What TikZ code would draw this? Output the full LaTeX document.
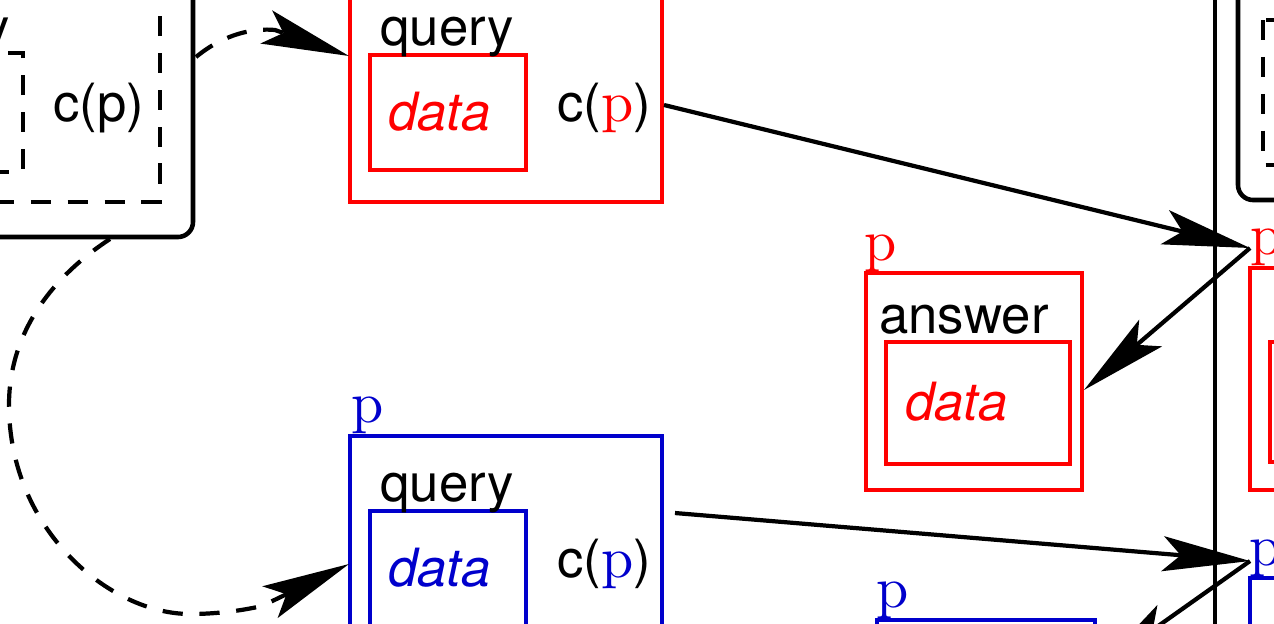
\documentclass[tikz,border=0pt]{standalone}
\usepackage{fontspec}
\newfontfamily\helv{TeX Gyre Heros}
\newfontfamily\cmr{lmroman10-regular.otf}
\usetikzlibrary{arrows.meta}
\definecolor{qred}{RGB}{255,0,0}
\definecolor{qblue}{RGB}{0,0,204}
\newcommand{\pp}[1]{\textcolor{#1}{\cmr\fontsize{33}{36}\selectfont p}}

\begin{document}
\begin{tikzpicture}[x=0.02cm, y=-0.02cm,
    txt/.style = {font=\helv\fontsize{30}{36}\selectfont, inner sep=0pt},
    ptxt/.style = {inner sep=0pt, anchor=south west},
    box/.style = {line width=2.6pt},
    dash line/.style = {line width=2.4pt, dash pattern=on 11.5pt off 9.5pt},
    big tip/.style = {-{Stealth[length=1.75cm, width=0.7cm, inset=0.36cm]}},
    link/.style = {line width=2.4pt, big tip}]
    \useasboundingbox (0,0) rectangle (1274,623);
    \clip (0,0) rectangle (1274,623);

    % left: sender
    \draw [box, rounded corners = 0.3cm] (-200,-60) rectangle (193,237);
    \draw [dash line]
        (-170,-40) rectangle (160,202)
        (-150,53) rectangle (23,172);
    \node [txt, anchor=base east] (sq) at (10,45) {query};
    \node [txt, anchor=base] (sc) at (99,121) {c(p)};

    % middle: red and blue queries
    \draw [box, qred]
        (350,-20) rectangle (662,202)
        (370,55) rectangle (526,170);
    \node [txt, anchor=base west] (rq) at (380,45) {query};
    \node [txt, anchor=base west, text=qred] (rd) at (388,130) {\itshape data};
    \node [txt, anchor=base] (rc) at (604,121) {c(\pp{qred})};

    \draw [box, qblue]
        (350,436) rectangle (662,658)
        (370,511) rectangle (526,626);
    \node [ptxt] (bp) at (351,434) {\pp{qblue}};
    \node [txt, anchor=base west] (bq) at (380,501) {query};
    \node [txt, anchor=base west, text=qblue] (bd) at (388,586) {\itshape data};
    \node [txt, anchor=base] (bc) at (604,577) {c(\pp{qblue})};

    % answers
    \draw [box, qred]
        (866,273) rectangle (1082,490)
        (886,342) rectangle (1070,464);
    \node [ptxt] (ap) at (864,272) {\pp{qred}};
    \node [txt, anchor=base west] (aa) at (879,333) {answer};
    \node [txt, anchor=base west, text=qred] (ad) at (905,420) {\itshape data};

    \draw [box, qblue] (877,620) rectangle (1095,837);
    \node [ptxt] (abp) at (876,619) {\pp{qblue}};

    % right: receiver
    \draw [line width=2.3pt] (1215,-10) -- (1215,633);
    \draw [box, rounded corners = 0.3cm] (1238,-200) rectangle (1500,200);
    \draw [dash line] (1263,20) rectangle (1480,165);
    \draw [box, qred]
        (1250,268) rectangle (1470,490)
        (1270,342) rectangle (1460,462);
    \node [ptxt] (rp) at (1250,266) {\pp{qred}};
    \draw [box, qblue] (1250,578) rectangle (1470,800);
    \node [ptxt] (rbp) at (1249,577) {\pp{qblue}};

    % connectors
    \coordinate (S1) at (196,57);
    \coordinate (S2) at (110,239);
    \coordinate (QR) at (349,56);
    \coordinate (QB) at (349,564);
    \coordinate (QRo) at (664,105);
    \coordinate (QBo) at (675,513);
    \coordinate (PR) at (1250,248);
    \coordinate (PB) at (1250,561);
    \coordinate (AR) at (1084,390);
    \coordinate (AB) at (1096,670);

    \draw [dash line, big tip] (S1) .. controls (225,33) and (255,28) .. (275,30) -- (QR);
    \draw [dash line, big tip] (S2) .. controls (55,275) and (9,330) .. (9,405)
        .. controls (9,530) and (110,614) .. (190,614)
        .. controls (215,614) and (240,611) .. (262,606) -- (QB);
    \draw [link] (QRo) -- (PR);
    \draw [link] (PR) -- (AR);
    \draw [link] (QBo) -- (PB);
    \draw [link] (PB) -- (AB);
\end{tikzpicture}
\end{document}
